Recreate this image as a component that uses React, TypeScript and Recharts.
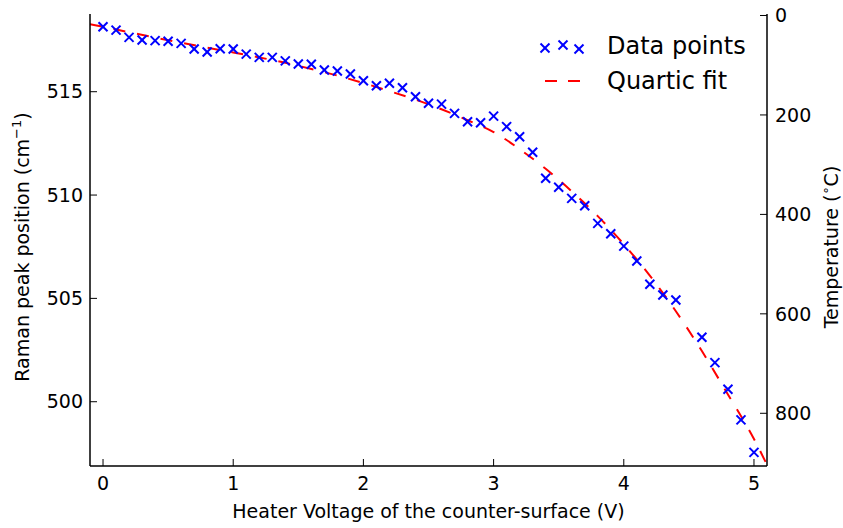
import React from "react";
import { ComposedChart, Scatter, Line, XAxis, YAxis } from "recharts";

// measured points (heater voltage in V, Raman peak in cm^-1)
const voltage = [
  0, 0.1, 0.2, 0.3, 0.4, 0.5, 0.6, 0.7, 0.8, 0.9, 1.0, 1.1, 1.2, 1.3, 1.4, 1.5, 1.6, 1.7, 1.8, 1.9,
  2.0, 2.1, 2.2, 2.3, 2.4, 2.5, 2.6, 2.7, 2.8, 2.9, 3.0, 3.1, 3.2, 3.3, 3.4, 3.5, 3.6, 3.7, 3.8, 3.9,
  4.0, 4.1, 4.2, 4.3, 4.4, 4.6, 4.7, 4.8, 4.9, 5.0,
];
const ramanPeak = [
  518.14, 517.98, 517.63, 517.5, 517.47, 517.44, 517.34, 517.07, 516.92, 517.08, 517.07, 516.82,
  516.66, 516.66, 516.49, 516.34, 516.33, 516.05, 516.0, 515.86, 515.53, 515.29, 515.41, 515.19,
  514.76, 514.44, 514.4, 513.95, 513.55, 513.5, 513.82, 513.31, 512.82, 512.07, 510.81, 510.38,
  509.84, 509.48, 508.63, 508.13, 507.53, 506.81, 505.68, 505.16, 504.92, 503.12, 501.89, 500.6,
  499.12, 497.55,
];

// quartic fit
const fitVoltage = [
  -0.1, 0, 0.2, 0.4, 0.6, 0.8, 1.0, 1.2, 1.4, 1.6, 1.8, 2.0, 2.2, 2.4, 2.6, 2.8, 3.0, 3.2, 3.4, 3.6,
  3.8, 4.0, 4.2, 4.4, 4.6, 4.8, 5.0, 5.1,
];
const fitPeak = [
  518.27, 518.14, 517.88, 517.62, 517.37, 517.13, 516.9, 516.66, 516.4, 516.1, 515.78, 515.42,
  515.03, 514.62, 514.15, 513.62, 513.05, 512.22, 511.27, 510.18, 508.98, 507.62, 506.1, 504.38,
  502.45, 500.35, 498.2, 496.95,
];

const voltageTicks = [0, 1, 2, 3, 4, 5];
const ramanTicks = [500, 505, 510, 515];
const temperatureTicks = [0, 200, 400, 600, 800];

const FONT = "'DejaVu Sans', sans-serif";
const tickStyle = { fontSize: 19, fill: "#000", fontFamily: FONT };

const points = voltage.map((v, i) => ({ v, w: ramanPeak[i] }));
const fit = fitVoltage.map((v, i) => ({ v, w: fitPeak[i] }));

function Cross(props: any) {
  const { cx, cy } = props;
  const r = 4.5;
  return (
    <g stroke="#0000ff" strokeWidth={2}>
      <line x1={cx - r} y1={cy - r} x2={cx + r} y2={cy + r} />
      <line x1={cx - r} y1={cy + r} x2={cx + r} y2={cy - r} />
    </g>
  );
}

function XLabel(props: any) {
  const { viewBox } = props;
  return (
    <text
      x={viewBox.x + viewBox.width / 2}
      y={viewBox.y + 52}
      textAnchor="middle"
      fontSize={19}
      fontFamily={FONT}
      fill="#000"
    >
      Heater Voltage of the counter-surface (V)
    </text>
  );
}

function RamanLabel(props: any) {
  const { viewBox } = props;
  const cx = viewBox.x + 29;
  const cy = viewBox.y + viewBox.height / 2 + 7;
  return (
    <text
      x={cx}
      y={cy}
      transform={`rotate(-90 ${cx} ${cy})`}
      textAnchor="middle"
      fontSize={19}
      fontFamily={FONT}
      fill="#000"
    >
      Raman peak position (cm
      <tspan fontSize={13} dy={-8}>−1</tspan>
      <tspan dy={8}>)</tspan>
    </text>
  );
}

function TempLabel(props: any) {
  const { viewBox } = props;
  const cx = viewBox.x + viewBox.width - 5;
  const cy = viewBox.y + viewBox.height / 2 + 7;
  return (
    <text
      x={cx}
      y={cy}
      transform={`rotate(-90 ${cx} ${cy})`}
      textAnchor="middle"
      fontSize={19}
      fontFamily={FONT}
      fill="#000"
    >
      Temperature (
      <tspan fontSize={13} dy={-8}>∘</tspan>
      <tspan dy={8}>C)</tspan>
    </text>
  );
}

function LegendOverlay() {
  return (
    <svg
      width={843}
      height={528}
      style={{ position: "absolute", left: 0, top: 0, pointerEvents: "none" }}
    >
      <Cross cx={545} cy={48} />
      <Cross cx={563} cy={45} />
      <Cross cx={579} cy={49} />
      <text x={607} y={54} fontSize={24} fontFamily={FONT} fill="#000">
        Data points
      </text>
      <line x1={545} y1={81} x2={580} y2={81} stroke="#ff0000" strokeWidth={2} strokeDasharray="12 11" />
      <text x={607} y={89} fontSize={24} fontFamily={FONT} fill="#000">
        Quartic fit
      </text>
    </svg>
  );
}

export default function App() {
  return (
    <div style={{ position: "absolute", left: 0, top: 0, width: 843, height: 528, background: "#fff" }}>
      <ComposedChart width={843} height={528} margin={{ top: 14, right: 0, bottom: 0, left: 0 }}>
        <XAxis
          xAxisId="b"
          type="number"
          dataKey="v"
          domain={[-0.1, 5.1]}
          ticks={voltageTicks}
          allowDataOverflow
          height={62}
          tickSize={-7}
          tickMargin={18}
          tick={tickStyle}
          axisLine={{ stroke: "#000", strokeWidth: 1.5 }}
          tickLine={{ stroke: "#000", strokeWidth: 1 }}
          label={XLabel}
        />
        <XAxis
          xAxisId="t"
          orientation="top"
          type="number"
          domain={[-0.1, 5.1]}
          ticks={voltageTicks}
          allowDataOverflow
          height={0}
          tickSize={-7}
          tick={() => <g />}
          axisLine={{ stroke: "#000", strokeWidth: 1.5 }}
          tickLine={{ stroke: "#000", strokeWidth: 1 }}
        />
        <YAxis
          yAxisId="w"
          type="number"
          domain={[496.89, 518.76]}
          ticks={ramanTicks}
          allowDataOverflow
          width={90}
          tickSize={-7}
          tickMargin={14}
          tick={tickStyle}
          axisLine={{ stroke: "#000", strokeWidth: 1.5 }}
          tickLine={{ stroke: "#000", strokeWidth: 1 }}
          label={RamanLabel}
        />
        <YAxis
          yAxisId="temp"
          orientation="right"
          type="number"
          reversed
          domain={[-3, 906]}
          ticks={temperatureTicks}
          allowDataOverflow
          width={76}
          tickSize={-7}
          tickMargin={15}
          tick={tickStyle}
          axisLine={{ stroke: "#000", strokeWidth: 1.5 }}
          tickLine={{ stroke: "#000", strokeWidth: 1 }}
          label={TempLabel}
        />
        <Scatter
          data={points}
          xAxisId="b"
          yAxisId="w"
          dataKey="w"
          shape={Cross}
          isAnimationActive={false}
        />
        <Line
          data={fit}
          xAxisId="b"
          yAxisId="w"
          dataKey="w"
          type="monotone"
          stroke="#ff0000"
          strokeWidth={2}
          strokeDasharray="12 12"
          dot={false}
          activeDot={false}
          isAnimationActive={false}
        />
      </ComposedChart>
      <LegendOverlay />
    </div>
  );
}
